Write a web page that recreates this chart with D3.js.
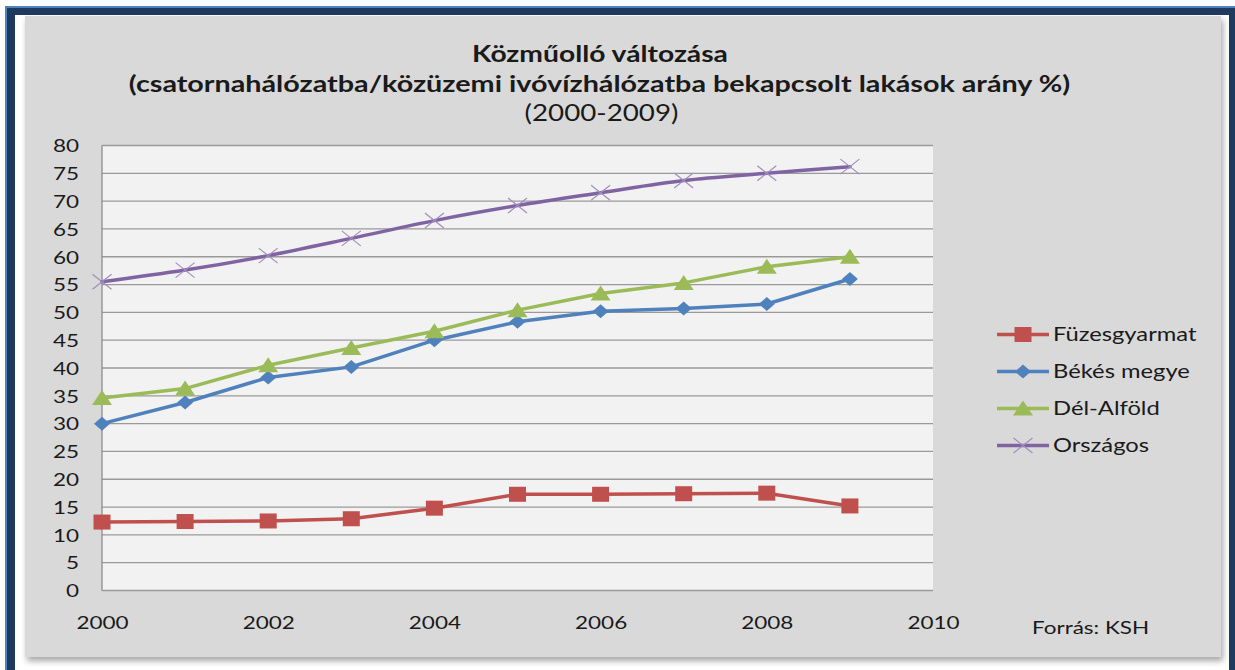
<!DOCTYPE html>
<html>
<head>
<meta charset="utf-8">
<script src="https://cdn.jsdelivr.net/npm/d3@7"></script>
<style>
  html, body { margin: 0; padding: 0; background: #ffffff; }
  svg { display: block; }
  text { font-family: Lato, "Open Sans", sans-serif; fill: #1a1a1a; }
</style>
</head>
<body>
<svg id="chart" width="1235" height="670"></svg>
<script>
// ---- data ----
const years = [2000, 2001, 2002, 2003, 2004, 2005, 2006, 2007, 2008, 2009];
const fuzesgyarmat = [12.3, 12.4, 12.5, 12.9, 14.8, 17.3, 17.3, 17.4, 17.5, 15.2];
const bekesMegye = [30.0, 33.8, 38.3, 40.2, 45.0, 48.3, 50.2, 50.7, 51.5, 56.0];
const delAlfold = [34.6, 36.3, 40.5, 43.6, 46.6, 50.4, 53.4, 55.3, 58.2, 60.0];
const orszagos = [55.5, 57.6, 60.2, 63.3, 66.5, 69.2, 71.5, 73.7, 75.0, 76.2];
const seriesNames = ["Füzesgyarmat", "Békés megye", "Dél-Alföld", "Országos"];
const yTicks = [0, 5, 10, 15, 20, 25, 30, 35, 40, 45, 50, 55, 60, 65, 70, 75, 80];
const xTicks = [2000, 2002, 2004, 2006, 2008, 2010];
const titleLines = [
  "Közműolló változása",
  "(csatornahálózatba/közüzemi ivóvízhálózatba bekapcsolt lakások arány %)",
  "(2000-2009)"
];
const sourceText = "Forrás: KSH";

// ---- setup ----
const SX = 1.25; // horizontal stretch of the original picture's text
const svg = d3.select("#chart");
const defs = svg.append("defs");
const f = defs.append("filter").attr("id", "shadow")
  .attr("x", "-5%").attr("y", "-5%").attr("width", "110%").attr("height", "115%");
f.append("feDropShadow").attr("dx", 2).attr("dy", 4).attr("stdDeviation", 3)
  .attr("flood-color", "#000").attr("flood-opacity", 0.35);

// frame
svg.append("rect").attr("x", 5).attr("y", 6).attr("width", 1260).attr("height", 700)
  .attr("fill", "#4F81BD");
svg.append("rect").attr("x", 7).attr("y", 8).attr("width", 1260).attr("height", 700)
  .attr("fill", "#1F3A5F");
svg.append("rect").attr("x", 15).attr("y", 15).attr("width", 1214).attr("height", 700)
  .attr("fill", "#ffffff");
svg.append("rect").attr("x", 25).attr("y", 16).attr("width", 1196).attr("height", 641)
  .attr("fill", "#D9D9D9").attr("filter", "url(#shadow)");

// scales
const x = d3.scaleLinear().domain([2000, 2010]).range([102, 933]);
const y = d3.scaleLinear().domain([0, 80]).range([590.5, 145.5]);

// plot area
svg.append("rect").attr("x", x(2000)).attr("y", y(80))
  .attr("width", x(2010) - x(2000)).attr("height", y(0) - y(80))
  .attr("fill", "#F2F2F2");

// gridlines
svg.append("g").selectAll("line").data(yTicks).join("line")
  .attr("x1", x(2000)).attr("x2", x(2010))
  .attr("y1", d => y(d)).attr("y2", d => y(d))
  .attr("stroke", "#9A9A9A").attr("stroke-width", 1.3);

// left axis line
svg.append("line").attr("x1", x(2000)).attr("x2", x(2000))
  .attr("y1", y(0)).attr("y2", y(80)).attr("stroke", "#8C8C8C").attr("stroke-width", 1.3);

// axes
const yAxis = svg.append("g").attr("transform", `translate(${x(2000)},0)`)
  .call(d3.axisLeft(y).tickValues(yTicks).tickSize(0).tickFormat(d3.format("d")));
yAxis.select(".domain").remove();
yAxis.selectAll("text").attr("x", null).attr("dy", "0.35em")
  .attr("transform", `translate(-23,0) scale(${SX},1)`)
  .style("font-family", "Lato").style("font-size", "18px").attr("fill", "#1a1a1a");

const xAxis = svg.append("g").attr("transform", `translate(0,${y(0)})`)
  .call(d3.axisBottom(x).tickValues(xTicks).tickSize(0).tickFormat(d3.format("d")));
xAxis.select(".domain").remove();
xAxis.selectAll("text").attr("y", null).attr("dy", null)
  .attr("transform", `translate(0,38.5) scale(${SX},1)`)
  .style("font-family", "Lato").style("font-size", "18px").attr("fill", "#1a1a1a");

// series
const series = [
  { name: seriesNames[0], values: fuzesgyarmat, color: "#C0504D", marker: "square", curve: d3.curveLinear },
  { name: seriesNames[1], values: bekesMegye, color: "#4F81BD", marker: "diamond", curve: d3.curveLinear },
  { name: seriesNames[2], values: delAlfold, color: "#9BBB59", marker: "triangle", curve: d3.curveLinear },
  { name: seriesNames[3], values: orszagos, color: "#8064A2", marker: "x", curve: d3.curveCatmullRom.alpha(0) }
];

function drawMarker(g, type, color, cx, cy) {
  if (type === "square") {
    g.append("rect").attr("x", cx - 8.5).attr("y", cy - 7.5).attr("width", 17).attr("height", 15)
      .attr("fill", color);
  } else if (type === "diamond") {
    g.append("path").attr("d", `M${cx},${cy - 7}L${cx + 8},${cy}L${cx},${cy + 7}L${cx - 8},${cy}Z`)
      .attr("fill", color);
  } else if (type === "triangle") {
    g.append("path").attr("d", `M${cx},${cy - 8}L${cx + 10},${cy + 7}L${cx - 10},${cy + 7}Z`)
      .attr("fill", color);
  } else {
    g.append("path").attr("d", `M${cx - 9.5},${cy - 7.5}L${cx + 9.5},${cy + 7.5}M${cx - 9.5},${cy + 7.5}L${cx + 9.5},${cy - 7.5}`)
      .attr("stroke", "#A18DC0").attr("stroke-width", 1.2).attr("fill", "none");
  }
}

series.forEach(s => {
  const line = d3.line().x((d, i) => x(years[i])).y(d => y(d)).curve(s.curve);
  const g = svg.append("g");
  g.append("path").datum(s.values).attr("d", line)
    .attr("fill", "none").attr("stroke", s.color).attr("stroke-width", 3.5)
    .attr("stroke-linejoin", "round").attr("stroke-linecap", "round");
  s.values.forEach((v, i) => drawMarker(g, s.marker, s.color, x(years[i]), y(v)));
});

// legend
const legendY = [334.5, 371.5, 408.5, 445.5];
series.forEach((s, i) => {
  const g = svg.append("g");
  g.append("line").attr("x1", 997).attr("x2", 1049).attr("y1", legendY[i]).attr("y2", legendY[i])
    .attr("stroke", s.color).attr("stroke-width", 3.5);
  drawMarker(g, s.marker, s.color, 1023, legendY[i]);
  g.append("text").attr("transform", `translate(1053,${legendY[i]}) scale(${SX},1)`)
    .attr("dy", "0.35em").style("font-size", "19px").text(s.name);
});

// titles
svg.append("text").attr("transform", `translate(600,61.5) scale(${SX},1)`)
  .attr("text-anchor", "middle").style("font-size", "22.6px").style("font-weight", "bold")
  .text(titleLines[0]);
svg.append("text").attr("transform", `translate(599.5,91.5) scale(${SX},1)`)
  .attr("text-anchor", "middle").style("font-size", "23px").style("font-weight", "bold")
  .text(titleLines[1]);
svg.append("text").attr("transform", `translate(601.5,120.5) scale(${SX},1)`)
  .attr("text-anchor", "middle").style("font-size", "22.2px")
  .text(titleLines[2]);

// source
svg.append("text").attr("transform", `translate(1032,634) scale(${SX},1)`)
  .style("font-size", "18px").text(sourceText);
</script>
</body>
</html>
